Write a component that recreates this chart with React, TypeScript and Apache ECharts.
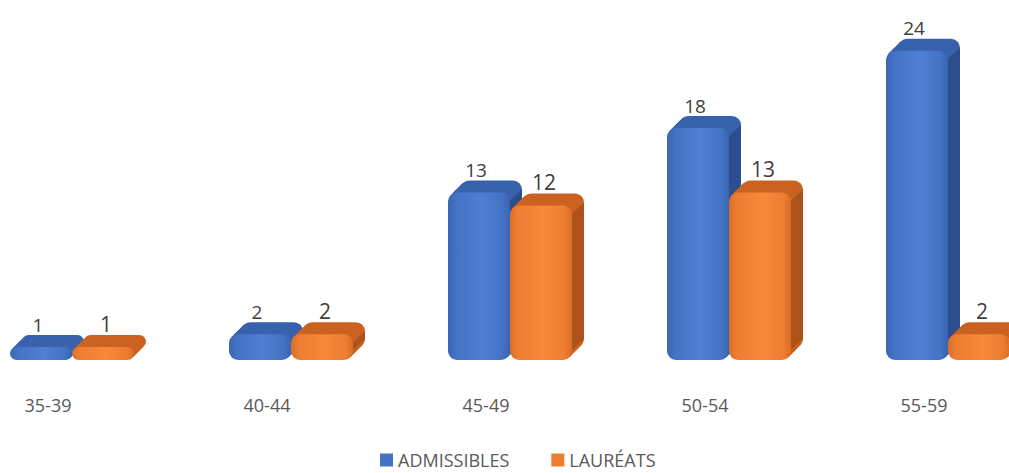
import React, { useEffect, useRef } from "react";
import * as echarts from "echarts";

const categories = ["35-39", "40-44", "45-49", "50-54", "55-59"];
const admissibles = [1, 2, 13, 18, 24];
const laureats = [1, 2, 12, 13, 2];
const seriesNames = ["ADMISSIBLES", "LAURÉATS"];

const FONT = "'Open Sans', 'Noto Sans', sans-serif";

const palettes = [
  { front: "#4472C4", light: "#507FD3", dark: "#3A64B2", top: "#3862AD", side: "#2D4E8E", label: 19, xoff: -3 },
  { front: "#ED7D31", light: "#F7893B", dark: "#D96E26", top: "#CB6221", side: "#AD531A", label: 21, xoff: 3 },
];

const makeRender = (si: number) => (params: any, api: any) => {
  const idx = api.value(0);
  const v = api.value(1);
  const base = api.coord([idx, 0]);
  const topPt = api.coord([idx, v]);
  const band = api.size([1, 0])[0];
  const w = band * 0.283;
  const dx = 12;
  const dy = 12;
  const x0 = si === 0 ? base[0] - w : base[0];
  const yb = base[1];
  const yt = topPt[1];
  const h = yb - yt;
  const r = Math.min(9, h / 2);
  const p = palettes[si];
  const children: any[] = [];
  const steps = 10;
  for (let k = steps; k >= 1; k--) {
    children.push({
      type: "rect",
      shape: { x: x0 + (dx * k) / steps, y: yt - (dy * k) / steps, width: w, height: h, r },
      style: { fill: p.top },
    });
  }
  if (h - 2 * r > 0) {
    children.push({
      type: "polygon",
      shape: {
        points: [
          [x0 + w - 1, yt + r],
          [x0 + w + dx, yt - dy + r],
          [x0 + w + dx, yb - dy - r],
          [x0 + w - 1, yb - r],
        ],
      },
      style: { fill: p.side },
    });
  }
  children.push({
    type: "rect",
    shape: { x: x0, y: yt, width: w, height: h, r },
    style: {
      fill: new echarts.graphic.LinearGradient(0, 0, 1, 0, [
        { offset: 0, color: p.dark },
        { offset: 0.12, color: p.front },
        { offset: 0.55, color: p.light },
        { offset: 0.88, color: p.front },
        { offset: 1, color: p.dark },
      ]),
    },
  });
  children.push({
    type: "text",
    x: x0 + w / 2 + p.xoff,
    y: yt - dy - 1,
    style: {
      text: String(v),
      fill: "#404040",
      font: `${p.label}px ${FONT}`,
      align: "center",
      verticalAlign: "bottom",
    },
  });
  return { type: "group", children };
};

export default function App() {
  const ref = useRef<HTMLDivElement>(null);
  useEffect(() => {
    if (!ref.current) return;
    const chart = echarts.init(ref.current, undefined, { renderer: "svg" });
    const seriesData = [admissibles, laureats];
    chart.setOption({
      animation: false,
      backgroundColor: "#ffffff",
      grid: { left: 72, right: 61, top: 25, bottom: 113 },
      legend: {
        data: seriesNames,
        icon: "rect",
        itemWidth: 13,
        itemHeight: 13,
        itemGap: 42,
        left: 375,
        top: 445,
        textStyle: { fontSize: 18, lineHeight: 20, color: "#595959", fontFamily: FONT },
      },
      xAxis: {
        type: "category",
        data: categories,
        boundaryGap: false,
        axisLine: { show: false },
        axisTick: { show: false },
        axisLabel: {
          interval: 0,
          margin: 36,
          fontSize: 18,
          color: "#595959",
          fontFamily: FONT,
          padding: [0, 48, 0, 0],
        },
      },
      yAxis: {
        type: "value",
        min: 0,
        max: 26,
        show: false,
        splitLine: { show: false },
      },
      series: seriesNames.map((name, si) => ({
        name,
        type: "custom",
        renderItem: makeRender(si),
        itemStyle: { color: palettes[si].front },
        encode: { x: 0, y: 1 },
        data: seriesData[si].map((v, i) => [i, v]),
      })),
    });
    return () => chart.dispose();
  }, []);
  return <div ref={ref} style={{ position: "absolute", left: 0, top: 0, width: 1009, height: 473 }} />;
}
